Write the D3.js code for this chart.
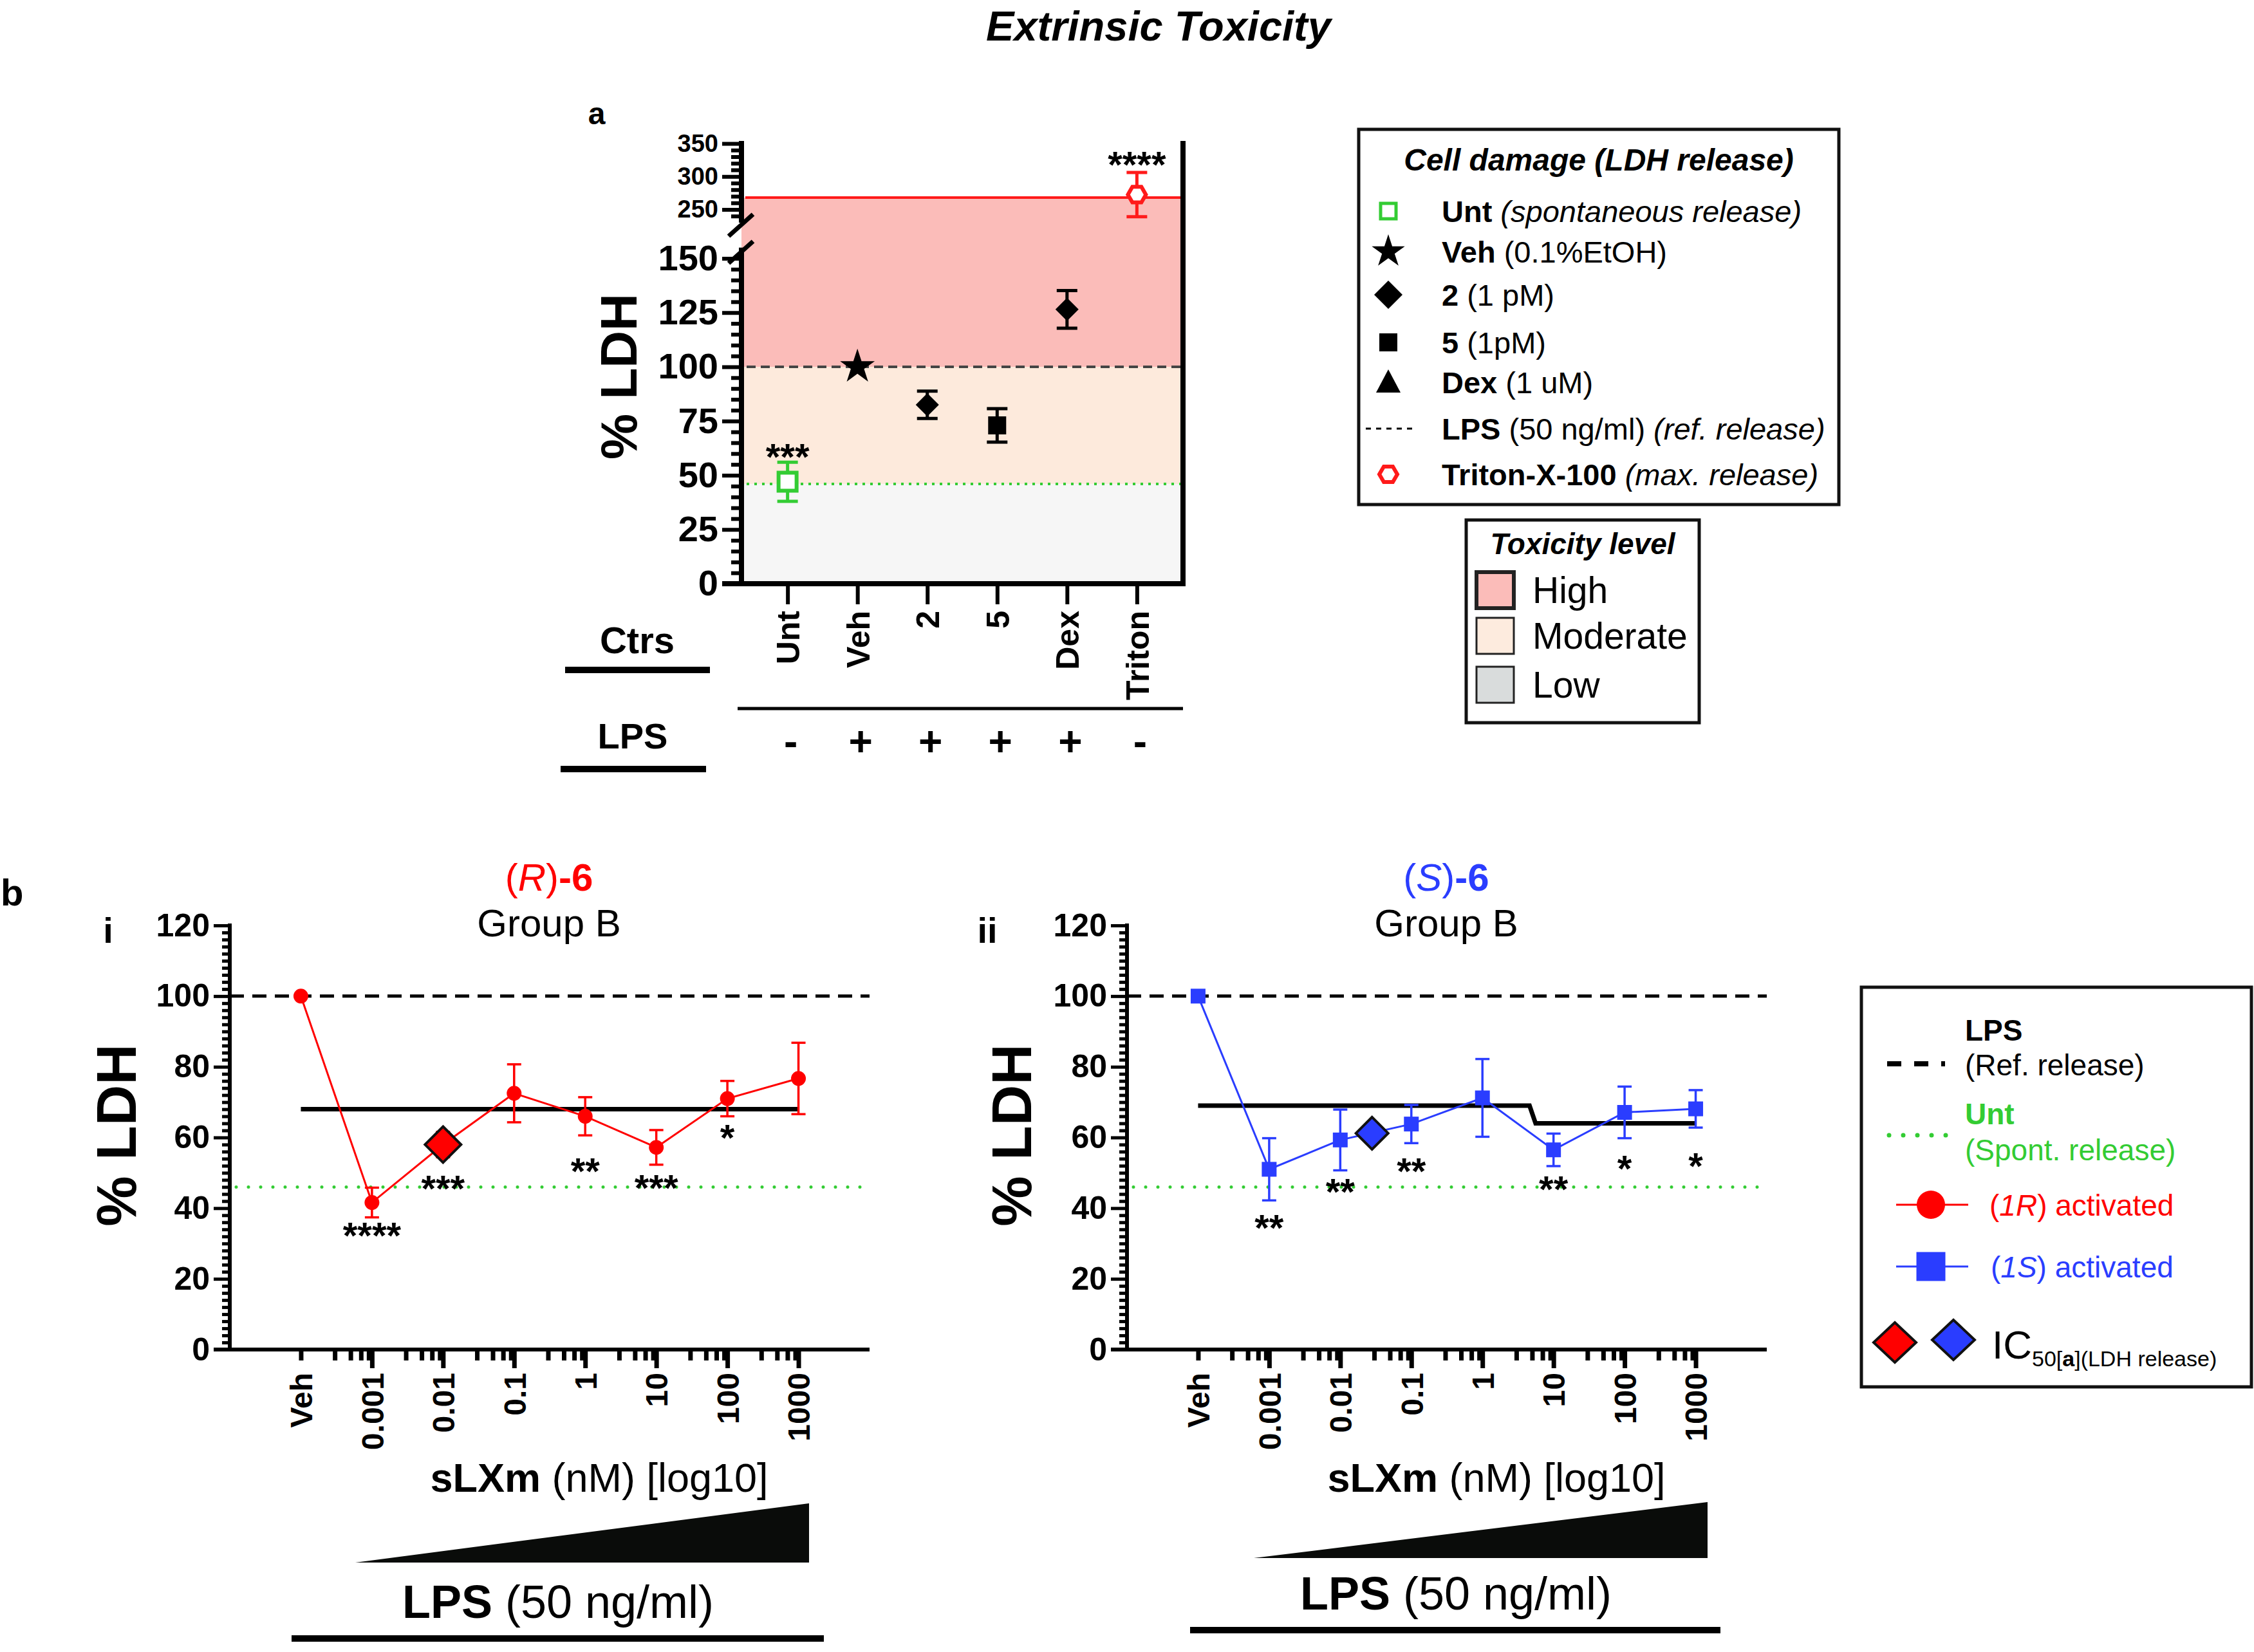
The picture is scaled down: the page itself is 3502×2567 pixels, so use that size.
<!DOCTYPE html>
<html><head><meta charset="utf-8">
<script src="https://cdn.jsdelivr.net/npm/d3@7"></script>
<style>body{margin:0;background:#fff} svg{display:block}</style>
</head><body>
<svg id="c" width="3502" height="2567"></svg>
<script>
// ================= DATA =================
// Panel a – controls
const ctrlCats  = ["Unt","Veh","2","5","Dex","Triton"];
const ctrlMean  = [47, 100, 82.5, 73, 126.5, 272.5];
const ctrlErr   = [9, 0, 6.3, 7.7, 8.7, 33.5];
const ctrlShape = ["openSquare","star","diamond","square","diamond","hexagon"];
const ctrlColor = ["#33cc33","#000000","#000000","#000000","#000000","#ff1a1a"];
const ctrlLPS   = ["-","+","+","+","+","-"];
const ctrlSig   = ["***","","","","","****"];
const ctrlSigAt = [62.5, 0, 0, 0, 0, 331];
const spontRelease = 46;   // Unt (spontaneous release)
const refRelease   = 100;  // LPS (reference release)
const maxRelease   = 268;  // Triton (max release)
const yTicksLow  = [0,25,50,75,100,125,150];
const yTicksHigh = [250,300,350];

// Panel b – dose responses
const doseLabels = ["Veh","0.001","0.01","0.1","1","10","100","1000"];
const doseValues = [1e-4,1e-3,1e-2,1e-1,1,10,100,1000];
const rMean  = [100, 41.6, 58, 72.5, 66, 57.2, 71, 76.7];
const rErr   = [0, 4.2, 3.6, 8.2, 5.4, 4.9, 5.0, 10.1];
const rSig   = ["","****","***","","**","***","*",""];
const rSigAt = [0, 34.8, 48, 0, 53, 48.2, 62.4, 0];
const sMean  = [100, 51, 59.3, 63.8, 71.2, 56.5, 67.1, 68.1];
const sErr   = [0, 8.8, 8.6, 5.4, 11, 4.6, 7.3, 5.3];
const sSig   = ["","**","**","**","","**","*","*"];
const sSigAt = [0, 37, 47.1, 53, 0, 47.8, 53.8, 54.4];
const rFitX = [1e-4, 1000],          rFitY = [68, 68];
const sFitX = [1e-4, 4.6, 5.6, 1000], sFitY = [69, 69, 64, 64];
const rIC50 = [0.01, 58];
const sIC50 = [0.028, 61.2];
const yTicksB = [0,20,40,60,80,100,120];
const minorMantissas = [3,5,7,9];

// ================= HELPERS =================
const FONT = '"Liberation Sans", Arial, Helvetica, sans-serif';
const RED = "#ff0000", BLUE = "#2a3dff", GREEN = "#33cc33";
const svg = d3.select('#c');
svg.append('rect').attr('width',3502).attr('height',2567).attr('fill','#fff');

function addText(g, x, y, parts, o={}) {
  const t = g.append('text').attr('x',x).attr('y',y)
    .attr('font-family',FONT).attr('font-size',o.size||40)
    .attr('text-anchor',o.anchor||'start').attr('fill',o.fill||'#000');
  if (o.transform) t.attr('transform',o.transform);
  if (o.weight) t.attr('font-weight',o.weight);
  if (o.italic) t.attr('font-style','italic');
  if (o.dy) t.attr('dy',o.dy);
  if (typeof parts === 'string') parts=[[parts,{}]];
  parts.forEach(([s,st])=>{
    const sp = t.append('tspan').text(s);
    if (st.b) sp.attr('font-weight','bold');
    if (st.i) sp.attr('font-style','italic');
    if (st.n) sp.attr('font-weight','normal');
    if (st.fill) sp.attr('fill',st.fill);
    if (st.size) sp.attr('font-size',st.size);
    if (st.dy) sp.attr('dy',st.dy);
  });
  return t;
}
function shapePath(type, s) {
  switch(type){
    case 'diamond': return `M0,${-s}L${s},0L0,${s}L${-s},0Z`;
    case 'square': case 'openSquare': return `M${-s},${-s}H${s}V${s}H${-s}Z`;
    case 'hexagon': { const h=s*0.866; return `M${-s},0L${-s/2},${-h}L${s/2},${-h}L${s},0L${s/2},${h}L${-s/2},${h}Z`; }
    case 'triangle': return `M0,${-s}L${s*0.95},${s*0.8}L${-s*0.95},${s*0.8}Z`;
    case 'star': return d3.symbol(d3.symbolStar, s)();
  }
}
function line(g,x1,y1,x2,y2,stroke,w,dash,cap){
  const l=g.append('line').attr('x1',x1).attr('y1',y1).attr('x2',x2).attr('y2',y2)
    .attr('stroke',stroke).attr('stroke-width',w);
  if(dash) l.attr('stroke-dasharray',dash);
  if(cap) l.attr('stroke-linecap',cap);
  return l;
}
function styleAxis(sel, tw, size, weight){
  sel.select('.domain').remove();
  sel.selectAll('.tick line').attr('stroke','#000').attr('stroke-width',tw);
  sel.selectAll('.tick text').attr('font-family',FONT).attr('font-size',size).attr('font-weight',weight||'bold').attr('fill','#000');
}

// ================= TITLE =================
addText(svg, 1800, 63, "Extrinsic Toxicity", {size:65, weight:'bold', italic:true, anchor:'middle'});

// ================= PANEL a =================
const gA = svg.append('g');
const axL = 1152, axR = 1838, axB = 907;
const xA = d3.scalePoint().domain(ctrlCats).range([axL, axR]).padding(0.66);
const yLo = d3.scaleLinear().domain([0,155]).range([axB, axB-155*3.37]);
const yHi = d3.scaleLinear().domain([230,350]).range([346,223]);
const yA = v => v <= 155 ? yLo(v) : yHi(v);

// toxicity zones
gA.append('rect').attr('x',axL).attr('width',axR-axL).attr('y',yLo(spontRelease)).attr('height',yLo(0)-yLo(spontRelease)).attr('fill','#f6f6f6');
gA.append('rect').attr('x',axL).attr('width',axR-axL).attr('y',yLo(refRelease)).attr('height',yLo(spontRelease)-yLo(refRelease)).attr('fill','#fdeadc');
gA.append('rect').attr('x',axL).attr('width',axR-axL).attr('y',yHi(maxRelease)).attr('height',yLo(refRelease)-yHi(maxRelease)).attr('fill','#fbbcb9');
// reference lines
line(gA, axL+6, yHi(maxRelease), axR, yHi(maxRelease), '#ff1a1a', 4);
line(gA, axL+8, yLo(refRelease), axR, yLo(refRelease), '#444', 4, '14,8');
line(gA, axL+8, yLo(spontRelease), axR, yLo(spontRelease), GREEN, 4, '4,8');

// y axes (broken)
const aLo = gA.append('g').attr('transform',`translate(${axL},0)`)
  .call(d3.axisLeft(yLo).tickValues(yTicksLow).tickSize(30).tickPadding(6).tickSizeOuter(0));
styleAxis(aLo, 6, 56);
const aLoMin = gA.append('g').attr('transform',`translate(${axL},0)`)
  .call(d3.axisLeft(yLo).tickValues(d3.range(0,151,5).filter(v=>v%25)).tickSize(16).tickFormat('').tickSizeOuter(0));
styleAxis(aLoMin, 6, 10);
const aHi = gA.append('g').attr('transform',`translate(${axL},0)`)
  .call(d3.axisLeft(yHi).tickValues(yTicksHigh).tickSize(30).tickPadding(6).tickSizeOuter(0));
styleAxis(aHi, 6, 38);
const aHiMin = gA.append('g').attr('transform',`translate(${axL},0)`)
  .call(d3.axisLeft(yHi).tickValues(d3.range(240,350,10).filter(v=>v%50)).tickSize(16).tickFormat('').tickSizeOuter(0));
styleAxis(aHiMin, 6, 10);
line(gA, axL, axB+4, axL, yLo(155), '#000', 8);
line(gA, axL, yHi(230), axL, yHi(350)-4, '#000', 8);
// break marks
line(gA, axL-20, 367, axL+18, 333, '#000', 7);
line(gA, axL-20, 409, axL+18, 375, '#000', 7);
// right border
line(gA, axR, 219, axR, axB+4, '#000', 8);

// x axis
const aX = gA.append('g').attr('transform',`translate(0,${axB})`)
  .call(d3.axisBottom(xA).tickSize(32).tickSizeOuter(0));
styleAxis(aX, 6, 50);
aX.selectAll('.tick text').attr('transform','rotate(-90)').attr('text-anchor','end')
  .attr('x',-42).attr('y',0).attr('dy','0.36em');
line(gA, axL-30, axB, axR+4, axB, '#000', 8);

// error bars + markers
ctrlCats.forEach((c,i)=>{
  const x = xA(c), col = ctrlColor[i];
  if (ctrlErr[i] > 0) {
    const y1 = yA(ctrlMean[i]+ctrlErr[i]), y2 = yA(ctrlMean[i]-ctrlErr[i]);
    line(gA, x, y1, x, y2, col, 5);
    line(gA, x-16, y1, x+16, y1, col, 5);
    line(gA, x-16, y2, x+16, y2, col, 5);
  }
  const shp = ctrlShape[i];
  const p = gA.append('path').attr('transform',`translate(${x},${yA(ctrlMean[i])})`);
  if (shp==='openSquare') p.attr('d',shapePath('square',14)).attr('fill','#fff').attr('stroke',col).attr('stroke-width',6);
  else if (shp==='hexagon') p.attr('d',shapePath('hexagon',14)).attr('fill','#fff').attr('stroke',col).attr('stroke-width',6);
  else if (shp==='star') p.attr('d',shapePath('star',900)).attr('fill',col);
  else if (shp==='diamond') p.attr('d',shapePath('diamond',18)).attr('fill',col);
  else p.attr('d',shapePath('square',14)).attr('fill',col);
  if (ctrlSig[i]) addText(gA, x, yA(ctrlSigAt[i])+34, ctrlSig[i], {size:58, weight:'bold', anchor:'middle'});
});

// row labels
addText(gA, 990, 1015, "Ctrs", {size:58, weight:'bold', anchor:'middle'});
gA.append('rect').attr('x',878).attr('y',1036).attr('width',225).attr('height',10).attr('fill','#000');
line(gA, axL-6, 1101, axR, 1101, '#000', 5);
addText(gA, 983, 1163, "LPS", {size:56, weight:'bold', anchor:'middle'});
gA.append('rect').attr('x',871).attr('y',1190).attr('width',226).attr('height',10).attr('fill','#000');
ctrlCats.forEach((c,i)=>{
  addText(gA, xA(c)+5, 1174, ctrlLPS[i], {size:64, weight:'bold', anchor:'middle'});
});
addText(gA, 927, 193, "a", {size:48, weight:'bold', anchor:'middle'});
addText(gA, 960, 585, "% LDH", {size:80, weight:'bold', anchor:'middle', transform:'rotate(-90,960,585)', dy:'0.36em'});

// ---- legend: Cell damage ----
const gL = svg.append('g');
gL.append('rect').attr('x',2111).attr('y',201).attr('width',746).attr('height',583).attr('fill','#fff').attr('stroke','#111').attr('stroke-width',5);
addText(gL, 2484, 265, "Cell damage (LDH release)", {size:48, weight:'bold', italic:true, anchor:'middle'});
const legRowsY = [328, 391, 458, 532, 594, 666, 737];
const symX = 2157, txX = 2240;
gL.append('path').attr('transform',`translate(${symX},${legRowsY[0]})`).attr('d',shapePath('square',12)).attr('fill','#fff').attr('stroke',GREEN).attr('stroke-width',5);
gL.append('path').attr('transform',`translate(${symX},${legRowsY[1]})`).attr('d',shapePath('star',820)).attr('fill','#000');
gL.append('path').attr('transform',`translate(${symX},${legRowsY[2]})`).attr('d',shapePath('diamond',22)).attr('fill','#000');
gL.append('path').attr('transform',`translate(${symX},${legRowsY[3]})`).attr('d',shapePath('square',14)).attr('fill','#000');
gL.append('path').attr('transform',`translate(${symX},${legRowsY[4]})`).attr('d',shapePath('triangle',20)).attr('fill','#000');
line(gL, 2122, legRowsY[5], 2198, legRowsY[5], '#000', 3, '8,8');
gL.append('path').attr('transform',`translate(${symX},${legRowsY[6]})`).attr('d',shapePath('hexagon',14)).attr('fill','#fff').attr('stroke','#ff1a1a').attr('stroke-width',6);
const legTexts = [
  [["Unt",{b:1}],[" (spontaneous release)",{i:1}]],
  [["Veh",{b:1}],[" (0.1%EtOH)",{}]],
  [["2",{b:1}],[" (1 pM)",{}]],
  [["5",{b:1}],[" (1pM)",{}]],
  [["Dex",{b:1}],[" (1 uM)",{}]],
  [["LPS",{b:1}],[" (50 ng/ml) ",{}],["(ref. release)",{i:1}]],
  [["Triton-X-100",{b:1}],[" (max. release)",{i:1}]]
];
legTexts.forEach((p,i)=> addText(gL, txX, legRowsY[i]+17, p, {size:47}));

// ---- legend: Toxicity level ----
const gT = svg.append('g');
gT.append('rect').attr('x',2278).attr('y',808).attr('width',362).attr('height',315).attr('fill','#fff').attr('stroke','#111').attr('stroke-width',5);
addText(gT, 2459, 861, "Toxicity level", {size:46, weight:'bold', italic:true, anchor:'middle'});
const toxNames = ["High","Moderate","Low"];
const toxFill = ["#fbbcb9","#fdebde","#d9dcdc"];
const toxY = [889, 960, 1036];
toxNames.forEach((n,i)=>{
  gT.append('rect').attr('x',2294).attr('y',toxY[i]).attr('width',58).attr('height',56)
    .attr('fill',toxFill[i]).attr('stroke','#222').attr('stroke-width', i===0?6:3);
  addText(gT, 2381, toxY[i]+48, n, {size:57});
});

// ================= PANEL b =================
function panelB(o){
  const g = svg.append('g');
  const x0 = o.x0, xEnd = o.x0 + 994, yB0 = 2097;
  const x = d3.scaleLog().domain([1e-5,1e4]).range([x0, xEnd]);
  const y = d3.scaleLinear().domain([0,120]).range([yB0, 1438]);
  // reference lines
  line(g, x0, y(refRelease), xEnd, y(refRelease), '#000', 5, '22,13');
  line(g, x0+10, y(spontRelease), xEnd, y(spontRelease), GREEN, 5, '0,19', 'round');
  // fit line
  g.append('path').datum(d3.zip(o.fitX, o.fitY))
    .attr('d', d3.line().x(d=>x(d[0])).y(d=>y(d[1])))
    .attr('fill','none').attr('stroke','#000').attr('stroke-width',7);
  // data line
  const pts = d3.zip(doseValues, o.mean);
  g.append('path').datum(pts).attr('d', d3.line().x(d=>x(d[0])).y(d=>y(d[1])))
    .attr('fill','none').attr('stroke',o.color).attr('stroke-width',3);
  // error bars & points
  doseValues.forEach((d,i)=>{
    const xx = x(d);
    if (o.err[i]>0){
      const y1=y(o.mean[i]+o.err[i]), y2=y(o.mean[i]-o.err[i]);
      line(g, xx, y1, xx, y2, o.color, 3.5);
      line(g, xx-11, y1, xx+11, y1, o.color, 3.5);
      line(g, xx-11, y2, xx+11, y2, o.color, 3.5);
    }
    if (o.marker==='circle') g.append('circle').attr('cx',xx).attr('cy',y(o.mean[i])).attr('r',11.5).attr('fill',o.color);
    else g.append('path').attr('transform',`translate(${xx},${y(o.mean[i])})`).attr('d',shapePath('square',11.5)).attr('fill',o.color);
  });
  // IC50 diamond
  g.append('path').attr('transform',`translate(${x(o.ic50[0])},${y(o.ic50[1])})`)
    .attr('d',shapePath('diamond',o.dsize)).attr('fill',o.color).attr('stroke','#111').attr('stroke-width',4);
  // significance
  doseValues.forEach((d,i)=>{
    if (o.sig[i]) addText(g, x(d), y(o.sigAt[i])+34, o.sig[i], {size:58, weight:'bold', anchor:'middle'});
  });
  // y axis
  const ay = g.append('g').attr('transform',`translate(${x0},0)`)
    .call(d3.axisLeft(y).tickValues(yTicksB).tickSize(25).tickPadding(6).tickSizeOuter(0));
  styleAxis(ay, 5, 50);
  const ayMin = g.append('g').attr('transform',`translate(${x0},0)`)
    .call(d3.axisLeft(y).tickValues(d3.range(0,121,2).filter(v=>v%20)).tickSize(12).tickFormat('').tickSizeOuter(0));
  styleAxis(ayMin, 5, 10);
  line(g, x0, yB0+3, x0, y(120)-3, '#000', 6);
  // x axis
  const ax = g.append('g').attr('transform',`translate(0,${yB0})`)
    .call(d3.axisBottom(x).tickValues(doseValues).tickFormat((d,i)=>doseLabels[i]).tickSize(29).tickSizeOuter(0));
  styleAxis(ax, 7, 48);
  ax.selectAll('.tick line').attr('y1',3).attr('y2', d => d===doseValues[0] ? 17 : 29);
  ax.selectAll('.tick text').attr('transform','rotate(-90)').attr('text-anchor','end')
    .attr('x',-36).attr('y',0).attr('dy','0.36em');
  const minors = [];
  for (let k=-4;k<=2;k++) minorMantissas.forEach(m=>minors.push(m*Math.pow(10,k)));
  const axm = g.append('g').attr('transform',`translate(0,${yB0})`)
    .call(d3.axisBottom(x).tickValues(minors).tickFormat('').tickSize(17).tickSizeOuter(0));
  styleAxis(axm, 7, 10);
  axm.selectAll('.tick line').attr('y1',3);
  line(g, x0-25, yB0, xEnd, yB0, '#000', 6);
  // titles
  addText(g, o.cx, 1384, o.title, {size:60, anchor:'middle', fill:o.color});
  addText(g, o.cx, 1455, "Group B", {size:60, anchor:'middle'});
  addText(g, o.romanX, 1465, o.roman, {size:56, weight:'bold', anchor:'middle'});
  addText(g, o.ylx, 1764, "% LDH", {size:88, weight:'bold', anchor:'middle', transform:`rotate(-90,${o.ylx},1764)`, dy:'0.36em'});
  addText(g, o.xlx, 2318, [["sLXm",{b:1}],[" (nM) [log10]",{}]], {size:63, anchor:'middle'});
  // concentration wedge
  g.append('path').attr('d',`M${o.wedge[0]},${o.wedge[2]}L${o.wedge[1]},${o.wedge[2]}L${o.wedge[1]},${o.wedge[3]}Z`).attr('fill','#0a0c0a');
  addText(g, o.lpsX, o.lpsY, [["LPS",{b:1}],[" (50 ng/ml)",{}]], {size:72, anchor:'middle'});
  g.append('rect').attr('x',o.bar[0]).attr('y',o.bar[2]-5).attr('width',o.bar[1]-o.bar[0]).attr('height',10).attr('fill','#000');
}

panelB({x0:357, mean:rMean, err:rErr, sig:rSig, sigAt:rSigAt, fitX:rFitX, fitY:rFitY, ic50:rIC50, dsize:28,
  color:RED, marker:'circle', cx:853, romanX:168, roman:'i', ylx:179, xlx:931,
  title:[["(",{}],["R",{i:1}],[")",{}],["-6",{b:1}]],
  wedge:[552,1257,2428,2336], lpsX:867, lpsY:2514, bar:[453,1280,2546]});
panelB({x0:1751, mean:sMean, err:sErr, sig:sSig, sigAt:sSigAt, fitX:sFitX, fitY:sFitY, ic50:sIC50, dsize:25,
  color:BLUE, marker:'square', cx:2247, romanX:1534, roman:'ii', ylx:1570, xlx:2325,
  title:[["(",{}],["S",{i:1}],[")",{}],["-6",{b:1}]],
  wedge:[1948,2653,2421,2334], lpsX:2262, lpsY:2501, bar:[1849,2673,2533]});
addText(svg, 1, 1407, "b", {size:58, weight:'bold'});

// ---- legend b ----
const gB = svg.append('g');
gB.append('rect').attr('x',2892).attr('y',1534).attr('width',606).attr('height',621).attr('fill','#fff').attr('stroke','#111').attr('stroke-width',5);
addText(gB, 3053, 1617, "LPS", {size:46, weight:'bold'});
addText(gB, 3053, 1671, "(Ref. release)", {size:46});
line(gB, 2932, 1653, 3022, 1653, '#000', 8, '22,20');
addText(gB, 3053, 1747, "Unt", {size:46, weight:'bold', fill:GREEN});
addText(gB, 3053, 1803, "(Spont. release)", {size:46, fill:GREEN});
line(gB, 2935, 1764, 3024, 1764, GREEN, 7, '0,22', 'round');
line(gB, 2946, 1872, 3058, 1872, RED, 3);
gB.append('circle').attr('cx',3000).attr('cy',1872).attr('r',22).attr('fill',RED);
addText(gB, 3091, 1889, [["(",{}],["1R",{i:1}],[")",{}],[" activated",{}]], {size:46, fill:RED});
line(gB, 2946, 1968, 3058, 1968, BLUE, 3);
gB.append('path').attr('transform','translate(3000,1968)').attr('d',shapePath('square',22.5)).attr('fill',BLUE);
addText(gB, 3093, 1985, [["(",{}],["1S",{i:1}],[")",{}],[" activated",{}]], {size:46, fill:BLUE});
gB.append('path').attr('transform','translate(2944,2086)').attr('d',`M0,-31L33,0L0,31L-33,0Z`).attr('fill',RED).attr('stroke','#111').attr('stroke-width',4);
gB.append('path').attr('transform','translate(3035,2082)').attr('d',`M0,-31L33,0L0,31L-33,0Z`).attr('fill',BLUE).attr('stroke','#111').attr('stroke-width',4);
addText(gB, 3095, 2111, [["IC",{}],["50[",{size:34, dy:12}],["a",{size:34, b:1}],["](LDH release)",{size:34}]], {size:62});
</script>
</body></html>
